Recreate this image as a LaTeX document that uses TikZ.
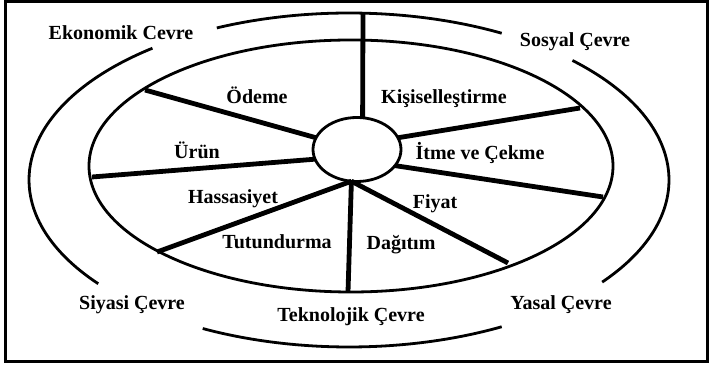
\documentclass[tikz,border=0pt]{standalone}
\usepackage{fontspec}
\setmainfont{Liberation Serif}
\usetikzlibrary{shapes.geometric}
\tikzset{
	rim/.style={line width=2.8pt},
	spoke/.style={line width=4.8pt},
	lbl/.style={font=\fontsize{20}{24}\selectfont\bfseries,inner sep=0pt,text height=13pt,text depth=4pt}
}
\begin{document}
\begin{tikzpicture}[x=1pt,y=1pt]
	\useasboundingbox (0,0) rectangle (709,366);
	\draw[line width=3pt] (5.5,4) rectangle (707,364.5);
	\coordinate (c) at (349,186);
	\draw[rim] (c) ++(61.5:320 and 167) arc[start angle=61.5,end angle=114.4,x radius=320,y radius=167];
	\draw[rim] (c) ++(-37.7:320 and 167) arc[start angle=-37.7,end angle=45.7,x radius=320,y radius=167];
	\draw[rim] (c) ++(-117.2:320 and 167) arc[start angle=-117.2,end angle=-61.5,x radius=320,y radius=167];
	\draw[rim] (c) ++(127.9:320 and 167) arc[start angle=127.9,end angle=218.4,x radius=320,y radius=167];
	\draw[rim] (351,200) ellipse[x radius=262,y radius=126];
	\node[draw,ellipse,rim,fill=white,minimum width=88pt,minimum height=64pt,inner sep=0pt,outer sep=0pt] (hub) at (357,216.5) {};
	\coordinate (t) at (363,353);
	\coordinate (kr) at (580,258);
	\coordinate (ir) at (603,169);
	\coordinate (fr) at (508,103);
	\coordinate (br) at (348,74);
	\coordinate (tr) at (157,114);
	\coordinate (ur) at (92,189);
	\coordinate (or) at (145,276);
	\draw[spoke] (hub.80) -- (t);
	\draw[spoke] (hub.16) -- (kr);
	\draw[spoke] (hub.-23) -- (ir);
	\draw[spoke] (hub.-100) -- (fr);
	\draw[spoke] (hub.-100) -- (br);
	\draw[spoke] (hub.-100) -- (tr);
	\draw[spoke] (hub.193) -- (ur);
	\draw[spoke] (hub.164) -- (or);
	\node[lbl] (eko) at (121,331) {Ekonomik Cevre};
	\node[lbl] (sos) at (575,324) {Sosyal Çevre};
	\node[lbl] (ode) at (257,267) {Ödeme};
	\node[lbl] (kis) at (444,267) {Kişiselleştirme};
	\node[lbl] (urun) at (197,212) {Ürün};
	\node[lbl] (itme) at (480,211) {İtme ve Çekme};
	\node[lbl] (has) at (233,167) {Hassasiyet};
	\node[lbl] (fiy) at (435,162) {Fiyat};
	\node[lbl] (tut) at (277,122) {Tutundurma};
	\node[lbl] (dag) at (401,121) {Dağıtım};
	\node[lbl] (siy) at (132,61) {Siyasi Çevre};
	\node[lbl] (tek) at (351,49) {Teknolojik Çevre};
	\node[lbl] (yas) at (561,61) {Yasal Çevre};
\end{tikzpicture}
\end{document}
